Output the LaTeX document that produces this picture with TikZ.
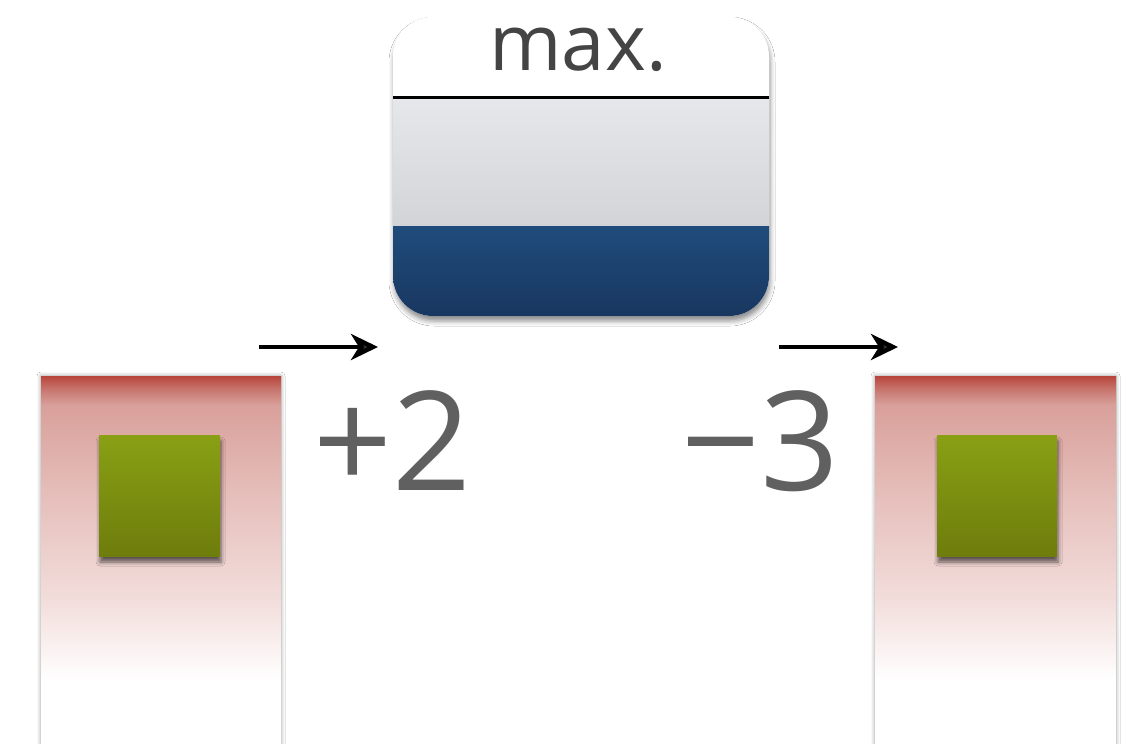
\documentclass[tikz,border=0pt]{standalone}
\usepackage{fontspec}
\setmainfont{Open Sans}
\usetikzlibrary{arrows.meta,shadows.blur}
\definecolor{txtdark}{HTML}{444444}
\definecolor{txtgray}{HTML}{606060}
\definecolor{redtop}{HTML}{B8453C}
\definecolor{redmid}{HTML}{C87870}
\definecolor{redpale}{HTML}{D9A09B}
\definecolor{redlight}{HTML}{E6C0BC}
\definecolor{redfaint}{HTML}{F2DDDB}
\definecolor{graytop}{HTML}{E6E7EA}
\definecolor{graybot}{HTML}{D3D4D7}
\definecolor{bluetop}{HTML}{1F4C7C}
\definecolor{bluebot}{HTML}{193760}
\definecolor{greentop}{HTML}{89A014}
\definecolor{greenbot}{HTML}{6E7D0C}
\pgfdeclareverticalshading{redpanel}{100bp}{%
  color(0bp)=(white); color(25bp)=(white); color(33.7bp)=(white);
  color(44.6bp)=(redfaint); color(58.15bp)=(redlight); color(71.05bp)=(redpale);
  color(73.1bp)=(redmid); color(75bp)=(redtop); color(100bp)=(redtop)}
\tikzset{
  panel/.style={draw=none, shading=redpanel,
    blur shadow={shadow xshift=0pt, shadow yshift=0pt, shadow blur radius=4pt, shadow opacity=40}},
  greenbox/.style={draw=none, top color=greentop, bottom color=greenbot,
    blur shadow={shadow xshift=1pt, shadow yshift=-6pt, shadow blur radius=4pt, shadow opacity=60}},
  flow/.style={line width=4.5pt, -{Stealth[length=27pt,width=26pt,inset=8pt]}},
  bigtxt/.style={text=txtgray, font=\fontsize{138}{138}\selectfont, inner sep=0pt, anchor=base},
}
\begin{document}
\begin{tikzpicture}[x=1pt,y=-1pt]
\useasboundingbox (0,0) rectangle (1127,744);
\fill[white] (0,0) rectangle (1127,744);
% top box
\fill[white, rounded corners=40pt,
  blur shadow={shadow xshift=1pt, shadow yshift=-5pt, shadow blur radius=5pt, shadow opacity=45}]
  (393,17) rectangle (769,316);
\begin{scope}
\clip[rounded corners=40pt] (393,17) rectangle (769,316);
\fill[white] (393,17) rectangle (769,97);
\shade[top color=graytop, bottom color=graybot] (393,99) rectangle (769,226);
\shade[top color=bluetop, bottom color=bluebot] (393,226) rectangle (769,316);
\draw[line width=3pt, black] (393,97.5) -- (769,97.5);
\end{scope}
\node[text=txtdark, font=\fontsize{78}{78}\selectfont, inner sep=0pt, anchor=base] (maxlbl) at (578,70) {max.};
% arrows
\coordinate (a1s) at (259,347);
\coordinate (a1e) at (378,347);
\coordinate (a2s) at (779,347);
\coordinate (a2e) at (898,347);
\draw[flow] (a1s) -- (a1e);
\draw[flow] (a2s) -- (a2e);
% panels
\path[panel] (41,376) rectangle (281,744);
\path[panel] (875,376) rectangle (1116,744);
\path[greenbox] (99,435) rectangle (220,556);
\path[greenbox] (937,435) rectangle (1057,556);
% numbers
\node[bigtxt] (plus) at (392,490) {+2};
\node[bigtxt] (minus) at (760,490) {−3};
\end{tikzpicture}
\end{document}
